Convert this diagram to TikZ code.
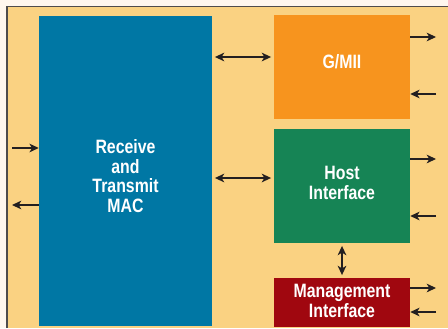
\documentclass[tikz,border=0pt]{standalone}
\usepackage{fontspec}
\setmainfont{Liberation Sans}[FakeStretch=0.82]
\usetikzlibrary{arrows.meta,calc}

\definecolor{cream}{RGB}{255,247,238}
\definecolor{tan}{RGB}{250,210,130}
\definecolor{macblue}{RGB}{0,119,164}
\definecolor{gmiiorange}{RGB}{247,148,30}
\definecolor{hostgreen}{RGB}{22,132,85}
\definecolor{mgmtred}{RGB}{160,7,15}
\definecolor{arrowgray}{RGB}{35,31,32}

\tikzset{
  block/.style={draw=none, inner sep=0pt},
  blocktext/.style={inner sep=0pt, text=white, align=center,
    font=\fontsize{14.5}{14.6}\selectfont\bfseries},
  sig/.style={draw=arrowgray, line width=0.9pt,
    -{Stealth[length=7pt,width=6.5pt,inset=2pt]}},
  bisig/.style={draw=arrowgray, line width=0.9pt,
    {Stealth[length=7pt,width=6.5pt,inset=2pt]}-{Stealth[length=7pt,width=6.5pt,inset=2pt]},
    shorten >=2pt, shorten <=2pt}
}

\begin{document}
\begin{tikzpicture}[x=0.75pt,y=0.75pt,yscale=-1,xscale=1]
  \useasboundingbox (0,0) rectangle (448,328);

  %Shape: background
  \fill[cream] (0,0) rectangle (448,328);
  \fill[tan] (7,6.5) rectangle (448,328);
  \draw[arrowgray!80, line width=0.8pt] (7,328) -- (7,6.5) -- (448,6.5);

  %Shape: Rectangle [mac]
  \node[block, fill=macblue, minimum width=173*0.75pt, minimum height=310*0.75pt] (mac) at (125.5,171) {};
  %Shape: Rectangle [gmii]
  \node[block, fill=gmiiorange, minimum width=136*0.75pt, minimum height=104*0.75pt] (gmii) at (342,67) {};
  %Shape: Rectangle [host]
  \node[block, fill=hostgreen, minimum width=136*0.75pt, minimum height=114*0.75pt] (host) at (342,186) {};
  %Shape: Rectangle [mgmt]
  \node[block, fill=mgmtred, minimum width=136*0.75pt, minimum height=49*0.75pt] (mgmt) at (342,302.5) {};

  % Text Node
  \node[blocktext] (mactext) at ($(mac.center)+(0,5)$) {Receive\\and\\Transmit\\MAC};
  % Text Node
  \node[blocktext] (gmiitext) at ($(gmii.center)+(0,-5)$) {G/MII};
  % Text Node
  \node[blocktext] (hosttext) at ($(host.center)+(0,-3)$) {Host\\Interface};
  % Text Node
  \node[blocktext] (mgmttext) at ($(mgmt.center)+(0,-1.5)$) {Management\\Interface};

  % free ends of the signal lines
  \coordinate (macin) at (12,148);
  \coordinate (macout) at (12,205);
  \coordinate (gmiiout) at (436,37);
  \coordinate (gmiiin) at (436,94);
  \coordinate (hostout) at (436,159);
  \coordinate (hostin) at (436,216);
  \coordinate (mgmtout) at (436,288);
  \coordinate (mgmtin) at (436,312);
  \coordinate (busa) at (243,57);
  \coordinate (busb) at (243,178);

  %Straight Lines: block to block
  \draw[bisig] (mac.east |- busa) -- (gmii.west |- busa);
  \draw[bisig] (mac.east |- busb) -- (host.west |- busb);
  \draw[bisig] (host.south) -- (mgmt.north);

  %Straight Lines: left side
  \draw[sig] (macin) -- (mac.west |- macin);
  \draw[sig] (mac.west |- macout) -- (macout);

  %Straight Lines: right side
  \draw[sig] (gmii.east |- gmiiout) -- (gmiiout);
  \draw[sig] (gmiiin) -- (gmii.east |- gmiiin);
  \draw[sig] (host.east |- hostout) -- (hostout);
  \draw[sig] (hostin) -- (host.east |- hostin);
  \draw[sig] (mgmt.east |- mgmtout) -- (mgmtout);
  \draw[sig] (mgmtin) -- (mgmt.east |- mgmtin);
\end{tikzpicture}
\end{document}
